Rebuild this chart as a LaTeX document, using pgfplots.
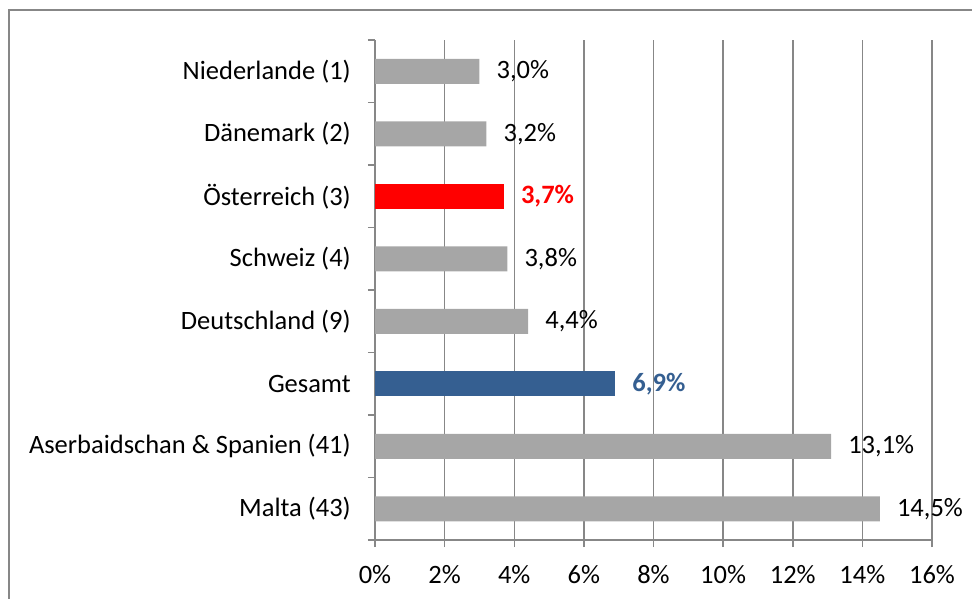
\documentclass[border=0pt]{standalone}
\usepackage{pgfplots}
\pgfplotsset{compat=1.18}
\usepackage{fontspec}
\setmainfont{Carlito}
\definecolor{bargray}{HTML}{A6A6A6}
\definecolor{gridgray}{HTML}{878787}
\definecolor{gesblue}{HTML}{355F91}
\definecolor{autred}{HTML}{FF0000}
\begin{document}
\fontsize{13.3}{16}\selectfont
\begin{tikzpicture}
\useasboundingbox (0,0) rectangle (486bp,299.5bp);
\draw[gridgray, line width=1bp] (4.5bp,-10bp) -- (4.5bp,294.5bp) -- (500bp,294.5bp);
\begin{axis}[
  at={(187.5bp,29.5bp)}, anchor=south west,
  scale only axis, width=278.5bp, height=250bp,
  xbar, bar width=0.4, bar shift=0pt,
  xmin=0, xmax=16, ymin=-0.5, ymax=7.5, y dir=reverse,
  axis x line*=bottom, axis y line*=left,
  axis line style={gridgray, line width=0.75bp},
  xtick={0,2,...,16},
  xticklabels={0\%,2\%,4\%,6\%,8\%,10\%,12\%,14\%,16\%},
  xmajorgrids, grid style={gridgray, line width=0.75bp},
  tick style={gridgray, line width=0.75bp},
  tick align=outside, major tick length=3.5bp,
  ytick={-0.5,0.5,...,7.5},
  y tick label as interval,
  yticklabels={Niederlande (1),Dänemark (2),Österreich (3),Schweiz (4),Deutschland (9),Gesamt,Aserbaidschan \& Spanien (41),Malta (43),{}},
  xticklabel style={font=\fontsize{13.3}{16}\selectfont, yshift=-4.5bp},
  yticklabel style={font=\fontsize{13.3}{16}\selectfont, xshift=-4bp},
  /pgf/number format/assume math mode=true,
  nodes near coords={\pgfmathprintnumber[fixed,fixed zerofill,precision=1,use comma]{\pgfplotspointmeta}\%},
  nodes near coords style={anchor=west, xshift=4bp, font=\fontsize{13.3}{16}\selectfont},
]
\addplot[fill=bargray, draw=none] coordinates {(3.0,0) (3.2,1) (3.8,3) (4.4,4) (13.1,6) (14.5,7)};
\addplot[fill=autred, draw=none, nodes near coords style={text=autred, font=\fontsize{13.3}{16}\selectfont\bfseries}] coordinates {(3.7,2)};
\addplot[fill=gesblue, draw=none, nodes near coords style={text=gesblue, font=\fontsize{13.3}{16}\selectfont\bfseries}] coordinates {(6.9,5)};
\end{axis}
\end{tikzpicture}
\end{document}
